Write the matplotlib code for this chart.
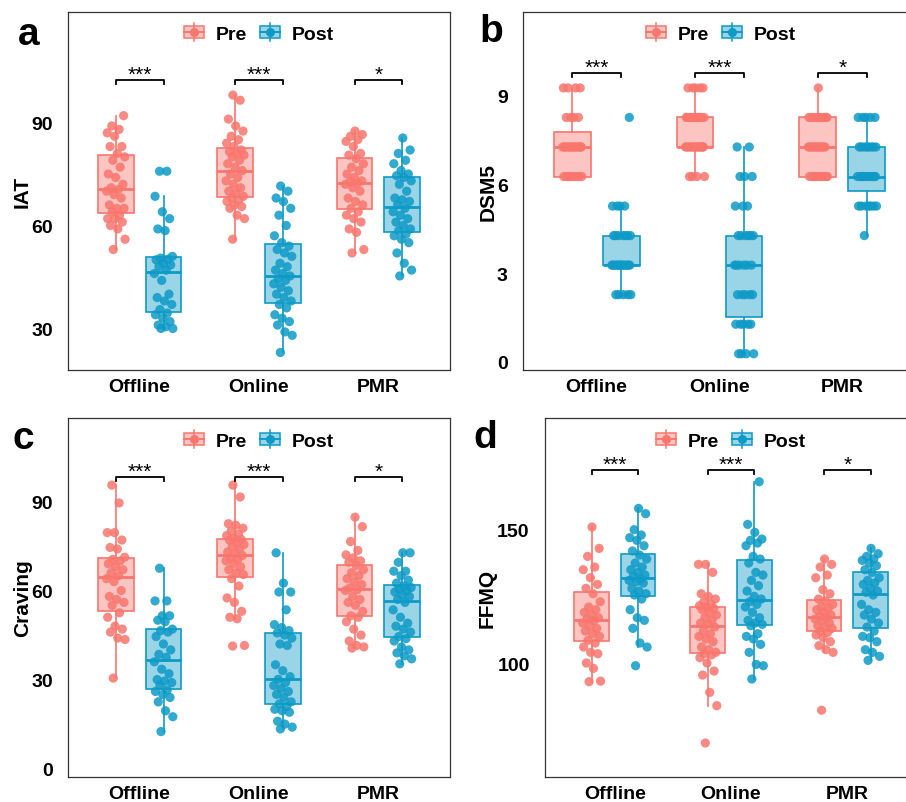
import numpy as np
import matplotlib
matplotlib.use("Agg")
import matplotlib.pyplot as plt
import matplotlib.transforms as mtransforms
from matplotlib.legend_handler import HandlerBase
from matplotlib.patches import Rectangle, Patch
from matplotlib.lines import Line2D

plt.rcParams['font.family'] = ['Liberation Sans', 'DejaVu Sans']
plt.rcParams['font.weight'] = 'bold'

categories = ['Offline', 'Online', 'PMR']
groups = ['Pre', 'Post']
sig_labels = ['***', '***', '*']

# ---------------- IAT ----------------
iat_offline_pre = [53, 56, 59, 60, 61, 62, 62, 63, 64, 65, 65, 66, 68, 69, 70, 70.5, 71, 72, 74, 75,
                   77, 79, 80, 81, 83, 83, 86, 87, 88, 89, 92]
iat_offline_post = [30, 30, 30.5, 31, 32, 33, 34, 34.5, 35.5, 37, 38, 39, 40, 44, 46, 47, 48, 48.5, 49, 50,
                    50.2, 50.5, 51, 58.5, 59, 62, 64, 68.5, 75.8, 75.8]
iat_online_pre = [56, 62, 63, 65, 65.5, 66, 67, 67.5, 68, 68.5, 69.5, 70, 71, 72, 73, 74, 75, 76, 77, 78,
                  79, 80, 80.5, 81, 81.5, 82, 83, 84, 85, 86, 87.5, 89, 91, 96.5, 98]
iat_online_post = [23, 28, 29, 31, 32, 33, 34, 36, 37, 38, 39, 40, 41, 42, 43, 44, 44.5, 45.3, 46, 47,
                   48, 49, 51, 52, 53, 54, 55, 57, 60, 63, 65, 67, 68, 70, 71.5]
iat_pmr_pre = [52, 53, 58, 59, 61, 62, 63, 64, 65, 66, 67, 68, 70, 71, 72, 72.3, 72.7, 73, 74, 75,
               76, 77, 78, 79.5, 80.5, 81, 83, 84.5, 85, 86, 86.5, 87.5]
iat_pmr_post = [45.3, 47, 49, 52, 55, 56, 57, 57.5, 58.5, 59, 60, 61, 62, 63, 64, 65, 66, 67, 67.5, 68,
                70, 72, 73, 74, 74.5, 75, 76, 78, 79, 81, 82, 85.5]

# ---------------- DSM5 ----------------
dsm_offline_pre = [6.27, 6.27, 6.27, 6.27, 6.27, 6.27, 6.27, 6.27, 6.27,
                   7.27, 7.27, 7.27, 7.27, 7.27, 7.27, 7.27, 7.27, 7.27, 7.27, 7.27, 7.27, 7.27, 7.27,
                   8.27, 8.27, 8.27, 8.27, 9.27, 9.27, 9.27, 9.27]
dsm_offline_post = [2.27, 2.27, 2.27, 2.27, 2.27,
                    3.27, 3.27, 3.27, 3.27, 3.27, 3.27, 3.27, 3.27, 3.27, 3.27, 3.27, 3.27, 3.27, 3.27,
                    4.27, 4.27, 4.27, 4.27, 4.27, 4.27, 4.27, 5.27, 5.27, 5.27, 5.27, 8.27]
dsm_online_pre = [6.27, 6.27, 6.27, 6.27,
                  7.27, 7.27, 7.27, 7.27, 7.27, 7.27, 7.27, 7.27, 7.27, 7.27, 7.27, 7.27, 7.27, 7.27,
                  8.27, 8.27, 8.27, 8.27, 8.27, 8.27, 8.27, 8.27, 8.27, 8.27, 8.27, 8.27,
                  9.27, 9.27, 9.27, 9.27, 9.27]
dsm_online_post = [0.27, 0.27, 0.27, 0.27, 1.27, 1.27, 1.27, 1.27, 1.27,
                   2.27, 2.27, 2.27, 2.27, 2.27, 3.27, 3.27, 3.27, 3.27, 3.27, 3.27,
                   4.27, 4.27, 4.27, 4.27, 4.27, 4.27, 5.27, 5.27, 5.27, 6.27, 6.27, 6.27, 7.27, 7.27]
dsm_pmr_pre = [6.27, 6.27, 6.27, 6.27, 6.27, 6.27, 6.27, 6.27, 6.27, 6.27,
               7.27, 7.27, 7.27, 7.27, 7.27, 7.27, 7.27, 7.27, 7.27, 7.27, 7.27, 7.27,
               8.27, 8.27, 8.27, 8.27, 8.27, 8.27, 8.27, 8.27, 8.27, 9.27]
dsm_pmr_post = [4.27, 5.27, 5.27, 5.27, 5.27, 5.27, 5.27, 5.27,
                6.27, 6.27, 6.27, 6.27, 6.27, 6.27, 6.27, 6.27, 6.27, 6.27,
                7.27, 7.27, 7.27, 7.27, 7.27, 7.27, 7.27, 7.27, 8.27, 8.27, 8.27, 8.27, 8.27]

# ---------------- Craving ----------------
crav_offline_pre = [30.5, 43.5, 44, 46, 47, 48, 51, 52.5, 55, 56, 57, 58, 60, 63, 64, 65, 66, 67, 68, 69,
                    70, 70.5, 71.2, 74, 74.5, 77, 79.5, 79.5, 89.5, 95.5]
crav_offline_post = [12.5, 17.5, 19.5, 22.5, 24, 25, 26, 26.5, 28, 29, 29.5, 30, 32, 33.5, 36, 37.5, 38.5,
                     40, 42, 44.5, 46, 46.5, 47, 49.5, 50, 51.5, 51.5, 56.5, 56.5, 67.5]
crav_online_pre = [41.3, 41.5, 50.5, 51, 53, 56, 57.5, 61.5, 64, 65.4, 66, 67, 68, 69, 70, 70.5, 71, 71.8,
                   72.5, 73, 74, 75, 75.5, 76, 77, 77.2, 77.6, 78.5, 79, 80, 81, 82, 82.5, 91.5, 95.5]
crav_online_post = [13.4, 14, 15, 16, 19, 19.5, 20, 21, 21.8, 22.5, 24, 25, 26, 27, 28, 29, 30.1, 31, 33,
                    35, 41.5, 42, 44, 45, 45.7, 46.5, 47.5, 48.5, 53.5, 59.5, 59.5, 62.5, 72.7]
crav_pmr_pre = [40.6, 41, 41.5, 43, 45, 47, 49.5, 51, 51.5, 53, 55, 56, 57, 58, 60, 60.3, 60.9, 62, 63,
                64, 65, 66, 67, 68.5, 69.5, 70, 71, 72, 73.5, 76.5, 81.5, 84.7]
crav_pmr_post = [35.3, 37, 38, 39, 40, 41, 43, 43.8, 44.5, 46, 47, 48, 49, 51, 53.5, 56, 57, 58, 58.5,
                 59.5, 60, 60.5, 61, 61.5, 62.5, 63.5, 65, 66.5, 66.5, 69.5, 72.7, 72.7]

# ---------------- FFMQ ----------------
ffmq_offline_pre = [93, 93.2, 98, 100, 103.5, 104, 106, 107.5, 108.5, 110, 111, 112, 113, 114, 115, 116,
                    116.5, 117, 118, 119, 120, 121, 123, 126, 128, 129.5, 132, 135, 136, 140, 143, 151]
ffmq_offline_post = [99, 106, 107.5, 113, 116, 117, 120, 124, 125.5, 126, 127, 128, 130, 130.5, 131,
                     131.5, 132.5, 133, 134, 135, 136, 137.5, 139, 140.5, 142, 144, 146, 147, 148, 150,
                     156, 158]
ffmq_online_pre = [70, 84, 89, 95.5, 97, 100, 102, 103, 103.5, 104, 105, 106, 108, 109, 110, 111, 112,
                   113.5, 114.5, 115, 116, 117, 118, 119, 120, 120.5, 121, 121.5, 122, 123, 124, 125,
                   126, 134, 137, 137]
ffmq_online_post = [94, 99, 99.5, 104, 107, 109, 110, 111, 114, 114.5, 115, 116, 117, 119, 121, 122, 123,
                    124, 125, 127, 129, 131, 133, 134, 137.5, 139, 140, 144, 145, 146, 146.5, 149, 152,
                    168]
ffmq_pmr_pre = [82.3, 104, 105, 106.5, 108, 109.5, 110.5, 111.5, 112, 113, 113.5, 114, 115, 116, 116.5,
                117, 117.5, 118, 119, 120, 120.5, 121, 122, 123.3, 124, 126, 127.5, 132, 133, 136, 137,
                139]
ffmq_pmr_post = [101, 102.5, 104, 105, 108, 109.5, 110, 112, 113.5, 115, 116.5, 118, 119, 120, 122, 125.5,
                 126.5, 127, 128, 129.5, 130, 131, 132, 134, 135, 136.5, 137.5, 138.5, 139, 140, 141, 143]

PRE_EDGE = '#F8766D'
POST_EDGE = '#0E9AC6'
colors = {'Pre': PRE_EDGE, 'Post': POST_EDGE}

W, H = 906, 803


def fig_rect(left, top, right, bottom):
    return [left / W, (H - bottom) / H, (right - left) / W, (bottom - top) / H]


panels = [
    dict(letter='a', letter_px=(18, 45), ylabel='IAT', ylabel_x=-0.12,
         rect=fig_rect(68, 13, 450, 371), ylim=(17.9, 122.2), yticks=[30, 60, 90],
         legend_xy=(0.5, 0.939), bracket_y=0.81,
         data={'Pre': [iat_offline_pre, iat_online_pre, iat_pmr_pre],
               'Post': [iat_offline_post, iat_online_post, iat_pmr_post]}),
    dict(letter='b', letter_px=(479, 42), ylabel='DSM5', ylabel_x=-0.09,
         rect=fig_rect(523, 13, 916, 371), ylim=(-0.28, 11.84), yticks=[0, 3, 6, 9],
         legend_xy=(0.504, 0.939), bracket_y=0.83,
         data={'Pre': [dsm_offline_pre, dsm_online_pre, dsm_pmr_pre],
               'Post': [dsm_offline_post, dsm_online_post, dsm_pmr_post]}),
    dict(letter='c', letter_px=(12, 449), ylabel='Craving', ylabel_x=-0.118,
         rect=fig_rect(68, 419, 450, 778), ylim=(-2.8, 118.1), yticks=[0, 30, 60, 90],
         legend_xy=(0.5, 0.936), bracket_y=0.836,
         data={'Pre': [crav_offline_pre, crav_online_pre, crav_pmr_pre],
               'Post': [crav_offline_post, crav_online_post, crav_pmr_post]}),
    dict(letter='d', letter_px=(473, 448), ylabel='FFMQ', ylabel_x=-0.156,
         rect=fig_rect(545, 419, 917, 778), ylim=(57.25, 191.9), yticks=[100, 150],
         legend_xy=(0.5, 0.936), bracket_y=0.856,
         data={'Pre': [ffmq_offline_pre, ffmq_online_pre, ffmq_pmr_pre],
               'Post': [ffmq_offline_post, ffmq_online_post, ffmq_pmr_post]}),
]


class BoxGlyph(HandlerBase):
    def __init__(self, edge, face):
        super().__init__()
        self.edge, self.face = edge, face

    def create_artists(self, legend, orig_handle, xdescent, ydescent, width, height,
                       fontsize, trans):
        x0, y0 = -xdescent, -ydescent
        cx, cy = x0 + width / 2, y0 + height / 2
        bh = height * 0.9
        v = Line2D([cx, cx], [cy - height * 0.68, cy + height * 0.68], color=self.edge,
                   lw=1.1, transform=trans)
        rect = Rectangle((x0, cy - bh / 2), width, bh, facecolor=self.face,
                         edgecolor=self.edge, lw=1.1, transform=trans)
        h = Line2D([x0, x0 + width], [cy, cy], color=self.edge, lw=1.4, transform=trans)
        d = Line2D([cx], [cy], marker='o', ms=5.5, color=self.edge, ls='none', transform=trans)
        return [v, rect, h, d]


def jitter(n, width=0.08):
    return ((np.arange(n) * 0.61803398875 + 0.37) % 1.0 - 0.5) * 2 * width


fig = plt.figure(figsize=(W / 100, H / 100), dpi=100)

offsets = {'Pre': -0.2, 'Post': 0.2}
cat_pos = np.arange(1, len(categories) + 1)

for p in panels:
    ax = fig.add_axes(p['rect'])
    for g in groups:
        col = colors[g]
        pos = cat_pos + offsets[g]
        ax.boxplot(p['data'][g], positions=pos, widths=0.3, patch_artist=True,
                   showfliers=False, showcaps=False, whis=1.5,
                   boxprops=dict(facecolor=matplotlib.colors.to_rgba(col, 0.42),
                                 edgecolor=col, linewidth=1.2),
                   whiskerprops=dict(color=col, linewidth=1.2),
                   medianprops=dict(color=col, linewidth=2.0),
                   zorder=2)
        for xpos, vals in zip(pos, p['data'][g]):
            vals = np.asarray(vals)
            ax.scatter(xpos + jitter(len(vals)), vals, s=44, color=col, alpha=0.85,
                       edgecolors='none', zorder=3)

    ax.set_xlim(0.4, 3.6)
    ax.set_ylim(*p['ylim'])
    ax.set_xticks(cat_pos)
    ax.set_xticklabels(categories, fontsize=14, fontweight='bold')
    ax.set_yticks(p['yticks'])
    ax.set_yticklabels([str(t) for t in p['yticks']], fontsize=14, fontweight='bold')
    ax.tick_params(axis='both', length=0, colors='black')
    ax.tick_params(axis='y', pad=11)
    ax.tick_params(axis='x', pad=6)
    for s in ax.spines.values():
        s.set_color('#333333')
        s.set_linewidth(0.9)
    ax.set_ylabel(p['ylabel'], fontsize=15, fontweight='bold')
    ax.yaxis.label.set_va('center')
    ax.yaxis.set_label_coords(p['ylabel_x'], 0.5)

    # significance brackets
    trans = mtransforms.blended_transform_factory(ax.transData, ax.transAxes)
    tick_h = 4.0 / (p['rect'][3] * H)
    by = p['bracket_y']
    for c, lab in zip(cat_pos, sig_labels):
        x1, x2 = c + offsets['Pre'], c + offsets['Post']
        ax.plot([x1, x1, x2, x2], [by - tick_h, by, by, by - tick_h], color='black',
                lw=1.3, transform=trans, clip_on=False, zorder=4)
        ax.text((x1 + x2) / 2, by, lab, transform=trans, ha='center', va='baseline',
                fontsize=15, fontweight='normal', color='black')

    # legend
    h_pre, h_post = Patch(), Patch()
    ax.legend([h_pre, h_post], groups, loc='center', bbox_to_anchor=p['legend_xy'],
              ncol=2, frameon=False, handlelength=1.0, handleheight=0.7,
              handletextpad=0.6, columnspacing=0.7, borderaxespad=0, borderpad=0,
              prop=dict(weight='bold', size=14),
              handler_map={h_pre: BoxGlyph(PRE_EDGE, matplotlib.colors.to_rgba(PRE_EDGE, 0.42)),
                           h_post: BoxGlyph(POST_EDGE, matplotlib.colors.to_rgba(POST_EDGE, 0.42))})

    lx, ly = p['letter_px']
    fig.text(lx / W, (H - ly) / H, p['letter'], fontsize=28, fontweight='bold',
             ha='left', va='baseline')

fig.savefig('out.png', dpi=100)
